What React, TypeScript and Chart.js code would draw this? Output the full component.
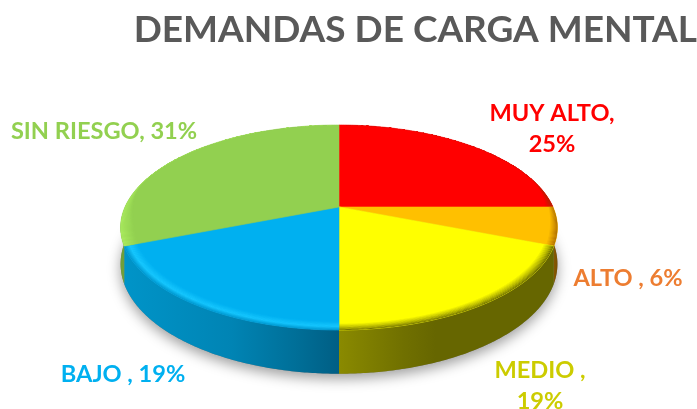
import React, { useEffect, useRef } from "react";
import { Chart, registerables } from "chart.js";

Chart.register(...registerables);

const categories = ["MUY ALTO", "ALTO", "MEDIO", "BAJO", "SIN RIESGO"];
const shares = [25, 6, 19, 19, 31];
const labelLines = [["MUY ALTO,", "25%"], ["ALTO , 6%"], ["MEDIO ,", "19%"], ["BAJO , 19%"], ["SIN RIESGO, 31%"]];
const chartTitle = "DEMANDAS DE CARGA MENTAL";

const faceColors = ["#ff0000", "#ffc000", "#ffff00", "#00b0f0", "#92d050"];
const textColors = ["#ff0000", "#ed7d31", "#cccc00", "#00b0f0", "#92d050"];
const labelAnchors = [[552, 113], [628, 278], [540, 370], [123, 374], [104, 131]];
const sideStops: [number, string][][] = [
  [[0, "#7a0000"], [1, "#7a0000"]],
  [[0, "#8a5a00"], [1, "#7a5000"]],
  [[0, "#8a8a00"], [0.3, "#707000"], [0.45, "#666600"], [1, "#666600"]],
  [[0, "#0094c8"], [0.5, "#0084b4"], [0.8, "#006f98"], [1, "#005e84"]],
  [[0, "#6f9f3a"], [1, "#6f9f3a"]],
];
const bevelStops: [number, number[]][][] = [
  [[0, [170, 40, 0]], [1, [255, 0, 0]]],
  [[0, [175, 110, 0]], [0.6, [255, 192, 0]], [1, [255, 192, 0]]],
  [[0, [105, 105, 0]], [0.3, [175, 175, 0]], [0.75, [255, 255, 0]], [1, [255, 255, 0]]],
  [[0, [0, 150, 205]], [0.4, [24, 200, 255]], [1, [0, 176, 240]]],
  [[0, [170, 235, 95]], [1, [146, 208, 80]]],
];

const CX = 339, R = 214, PY = 207, PA = 57, PC = -0.2, DEPTH = 35, BEVEL = 0.06;

function project(r: number, a: number, depth = 0): [number, number] {
  const u = r * Math.cos(a), v = r * Math.sin(a);
  const w = 1 + PC * v;
  return [CX + (R * u) / w, (PA * v + PY) / w + (depth * DEPTH) / w];
}
function angles(a0: number, a1: number) {
  const n = Math.max(2, Math.ceil((a1 - a0) / 0.01));
  return Array.from({ length: n + 1 }, (_, i) => a0 + ((a1 - a0) * i) / n);
}
function bevelWidth(a: number) {
  const t = Math.min(1, Math.max(0, (Math.sin(a) + 0.35) / 0.6));
  return BEVEL * t * t * (3 - 2 * t);
}
function bevelColor(stops: [number, number[]][], t: number) {
  for (let i = 1; i < stops.length; i++) {
    if (t <= stops[i][0]) {
      const [t0, c0] = stops[i - 1], [t1, c1] = stops[i];
      const k = (t - t0) / (t1 - t0);
      return `rgb(${c0.map((c, j) => Math.round(c + (c1[j] - c) * k)).join(",")})`;
    }
  }
  return `rgb(${stops[stops.length - 1][1].join(",")})`;
}

const pie3d = {
  id: "pie3d",
  beforeDatasetsDraw(chart: any) {
    const ctx: CanvasRenderingContext2D = chart.ctx;
    const arcs = chart.getDatasetMeta(0).data as any[];
    const full = angles(0, Math.PI * 2);
    ctx.save();

    // soft shadow under the disc
    ctx.save();
    ctx.shadowColor = "rgba(0,0,0,0.38)";
    ctx.shadowBlur = 13;
    ctx.shadowOffsetY = 5;
    ctx.fillStyle = "#808080";
    ctx.beginPath();
    full.forEach((a) => { const [x, y] = project(1, a, 1); ctx.lineTo(x, y); });
    ctx.closePath();
    ctx.fill();
    ctx.restore();

    // extruded side
    arcs.forEach((arc, i) => {
      const list = angles(arc.startAngle, arc.endAngle);
      const xs = list.map((a) => project(1, a)[0]);
      const g = ctx.createLinearGradient(Math.min(...xs), 0, Math.max(...xs), 0);
      sideStops[i].forEach(([o, c]) => g.addColorStop(o, c));
      ctx.fillStyle = g;
      ctx.beginPath();
      list.forEach((a) => { const [x, y] = project(1, a, 0); ctx.lineTo(x, y); });
      [...list].reverse().forEach((a) => { const [x, y] = project(1, a, 1); ctx.lineTo(x, y); });
      ctx.closePath();
      ctx.fill();
    });

    // top faces
    arcs.forEach((arc, i) => {
      const list = angles(arc.startAngle, arc.endAngle);
      ctx.fillStyle = faceColors[i];
      ctx.strokeStyle = faceColors[i];
      ctx.lineWidth = 0.6;
      ctx.beginPath();
      const [cx, cy] = project(0, 0);
      ctx.moveTo(cx, cy);
      list.forEach((a) => { const [x, y] = project(1, a); ctx.lineTo(x, y); });
      ctx.closePath();
      ctx.fill();
      ctx.stroke();

      // bevel along the rim
      const steps = 14;
      for (let s = 0; s < steps; s++) {
        const t0 = s / steps, t1 = (s + 1) / steps;
        ctx.fillStyle = bevelColor(bevelStops[i], (t0 + t1) / 2);
        ctx.beginPath();
        list.forEach((a) => { const [x, y] = project(1 - t0 * bevelWidth(a), a); ctx.lineTo(x, y); });
        [...list].reverse().forEach((a) => { const [x, y] = project(1 - t1 * bevelWidth(a) - 0.001, a); ctx.lineTo(x, y); });
        ctx.closePath();
        ctx.fill();
      }
    });

    // value labels
    ctx.font = 'bold 23.6px Lato, "Open Sans", sans-serif';
    ctx.textAlign = "center";
    ctx.textBaseline = "middle";
    labelLines.forEach((lines, i) => {
      ctx.fillStyle = textColors[i];
      lines.forEach((line, k) => ctx.fillText(line, labelAnchors[i][0], labelAnchors[i][1] + k * 31));
    });
    ctx.restore();
    return false;
  },
};

export default function App() {
  const ref = useRef<HTMLCanvasElement>(null);
  useEffect(() => {
    document.body.style.margin = "0";
    const chart = new Chart(ref.current!, {
      type: "pie",
      data: {
        labels: categories,
        datasets: [{ data: shares, backgroundColor: faceColors, borderWidth: 0 }],
      },
      options: {
        animation: false,
        responsive: false,
        plugins: {
          legend: { display: false },
          tooltip: { enabled: false },
          title: {
            display: true,
            text: chartTitle,
            align: "end",
            color: "#595959",
            font: { family: 'Lato, "Open Sans", sans-serif', size: 37, weight: "bold" },
            padding: { top: 8, bottom: 4 },
          },
        },
      },
      plugins: [pie3d],
    } as any);
    return () => chart.destroy();
  }, []);
  return <canvas ref={ref} width={697} height={409} style={{ display: "block", width: 697, height: 409 }} />;
}
